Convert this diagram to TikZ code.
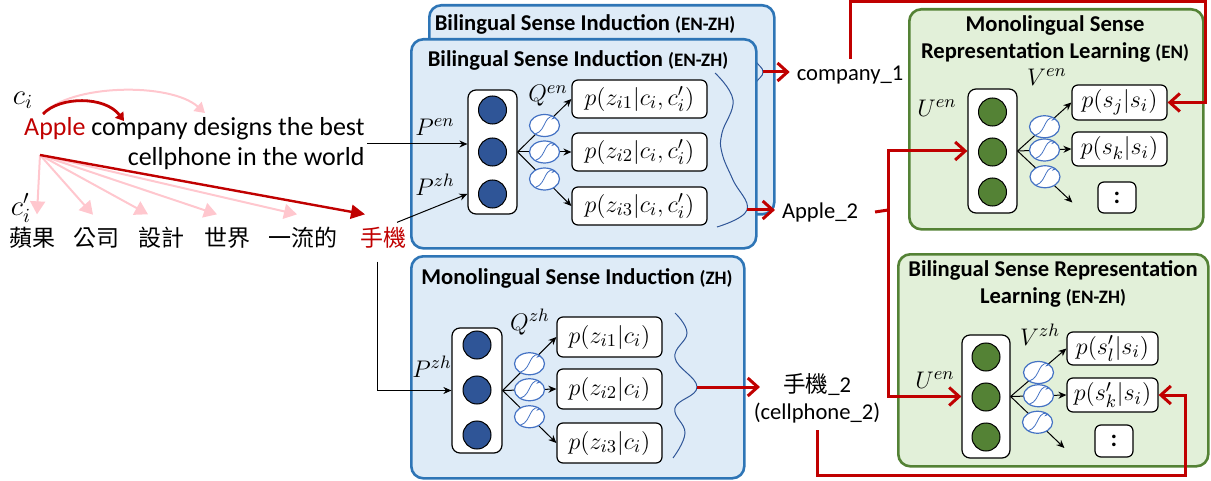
\documentclass[tikz,border=0pt]{standalone}
\usepackage{fontspec}
\setmainfont{Carlito}
\newfontfamily\cjk{Noto Sans CJK TC}
\usetikzlibrary{shapes.geometric, arrows.meta, calc}
\definecolor{boxblue}{RGB}{46,117,182}
\definecolor{fillblue}{RGB}{222,235,247}
\definecolor{boxgreen}{RGB}{84,130,53}
\definecolor{fillgreen}{RGB}{226,240,217}
\definecolor{unitblue}{RGB}{47,85,151}
\definecolor{unitgreen}{RGB}{84,130,53}
\definecolor{sigblue}{RGB}{68,114,196}
\definecolor{linkred}{RGB}{192,0,0}
\definecolor{linkpink}{RGB}{255,199,206}
\newcommand{\mfont}{\fontsize{12.5}{14}\selectfont}
\newcommand{\tagfont}{\fontsize{9.5}{11}\selectfont}

\tikzset{
  bluebox/.style={draw=boxblue, fill=fillblue, line width=1.3pt, rounded corners=6pt, anchor=north west, inner sep=0pt},
  greenbox/.style={bluebox, draw=boxgreen, fill=fillgreen},
  boxtitle/.style={font=\fontsize{11.3}{13.5}\selectfont\bfseries, align=center},
  layer/.style={draw, fill=white, rounded corners=4pt, line width=0.6pt, minimum width=24.5pt, minimum height=62pt},
  unitB/.style={circle, draw, fill=unitblue, line width=0.5pt, minimum size=14pt, inner sep=0pt},
  unitG/.style={unitB, fill=unitgreen},
  prob/.style={draw, fill=white, rounded corners=3pt, line width=0.6pt, inner sep=1pt, font=\mfont},
  dots/.style={prob, font=\fontsize{12}{14}\selectfont\bfseries, minimum width=19pt, minimum height=15.5pt},
  sig/.style={ellipse, draw=sigblue, fill=white, line width=0.6pt, minimum width=15pt, minimum height=11pt, inner sep=0pt,
    path picture={\draw[sigblue, line width=0.4pt]
      ([shift={(-7.5pt,-4.5pt)}]path picture bounding box.center)
      .. controls ([shift={(1.5pt,-5pt)}]path picture bounding box.center) and ([shift={(-1.5pt,5pt)}]path picture bounding box.center)
      .. ([shift={(7.5pt,4.5pt)}]path picture bounding box.center);}},
  flow/.style={-{Stealth[length=4pt,width=3.5pt]}, line width=0.5pt},
  redflow/.style={linkred, line width=1.5pt, -{Straight Barb[length=5pt,width=9pt]}},
  redline/.style={linkred, line width=1.5pt},
  pinkflow/.style={linkpink, line width=1pt, -{Triangle[length=6.5pt,width=7.5pt]}},
  darkflow/.style={linkred, line width=1.2pt, -{Triangle[length=7pt,width=7pt]}},
  pinkarc/.style={linkpink, line width=1pt, -{Triangle[length=5pt,width=6pt]}},
  darkarc/.style={linkred, line width=1.4pt, -{Triangle[length=4pt,width=5pt]}},
  wave/.style={unitblue, line width=0.5pt},
  lbl/.style={font=\mfont},
  ctx/.style={font=\fontsize{14}{16}\selectfont},
  word/.style={font=\fontsize{13}{15}\selectfont},
  zh/.style={font=\cjk\fontsize{11.5}{13}\selectfont},
  outlbl/.style={font=\fontsize{11.3}{13.5}\selectfont},
}

\begin{document}
\begin{tikzpicture}[x=0.5pt, y=-0.5pt]
  \useasboundingbox (0,0) rectangle (1211,481);

  % Sentence pair
  \node[ctx] (ci) at (23,100) {$c_i$};
  \node[word, align=right, anchor=east, inner sep=1pt] (sent) at (367,144)
    {\textcolor{linkred}{Apple} company designs the best\\cellphone in the world};
  \node[ctx] (cpi) at (21,208) {$c'_i$};
  \foreach \n/\x/\t in {w1/33/蘋果, w2/96/公司, w3/161/設計, w4/227/世界, w5/303/一流的}
    \node[zh] (\n) at (\x,238) {\t};
  \node[zh, text=linkred] (shouji) at (383,238) {手機};

  % Context arcs
  \coordinate (arcA) at (43,114);
  \coordinate (arcB) at (124,121);
  \coordinate (arcC) at (205,113);
  \draw[pinkarc] (arcA) .. controls (70,84) and (170,82) .. (arcC);
  \draw[darkarc] (arcA) .. controls (60,96) and (105,96) .. (arcB);

  % Alignment fan
  \coordinate (fan) at (40,155);
  \foreach \w/\dx in {w1/4, w2/-3, w3/-13, w4/-10, w5/-6}
    \draw[pinkflow] (fan) -- ($(\w.north)+(\dx,-6)$);
  \draw[darkflow] (fan) -- ($(shouji.north)+(-18,-6)$);

  % Bilingual sense induction (back copy)
  \node[bluebox, minimum width=172.5pt, minimum height=104.5pt] (bsiB) at (428,4) {};
  \node[boxtitle] at (585,24) {Bilingual Sense Induction {\tagfont(EN-ZH)}};
  \coordinate (tipB) at (763,72);
  \draw[wave] (755,60) .. controls (758,66) and (763,67) .. (tipB) .. controls (763,77) and (758,78) .. (755,84);

  % Bilingual sense induction (front copy)
  \node[bluebox, minimum width=172.5pt, minimum height=104.5pt] (bsiF) at (410,38) {};
  \node[boxtitle] at (578,60) {Bilingual Sense Induction {\tagfont(EN-ZH)}};
  \node[layer] (colF) at (492.5,152) {};
  \foreach \i/\y in {1/110, 2/152, 3/194}
    \node[unitB] (cF\i) at (492.5,\y) {};
  \node[lbl] at (548,96) {$Q^{en}$};
  \node[lbl] at (435,127) {$P^{en}$};
  \node[lbl] at (435,185) {$P^{zh}$};
  \node[prob, minimum width=67.5pt, minimum height=19pt] (pF1) at (639.5,99) {$p(z_{i1}|c_i,c'_i)$};
  \node[prob, minimum width=67.5pt, minimum height=19pt] (pF2) at (639.5,152) {$p(z_{i2}|c_i,c'_i)$};
  \node[prob, minimum width=67.5pt, minimum height=19pt] (pF3) at (639.5,206) {$p(z_{i3}|c_i,c'_i)$};
  \foreach \i in {1,2,3}
    \draw[flow] (colF.east) -- node[sig, pos=0.5] {} (pF\i.west);
  \draw[wave] plot[smooth, tension=0.7] coordinates {(715,73) (733,100) (722,133) (722,153) (733,180) (747,210) (717,227)};
  \coordinate (tipF) at (747,210);

  % Monolingual sense induction
  \node[bluebox, minimum width=166.5pt, minimum height=111pt] (msi) at (410,255) {};
  \node[boxtitle] at (577,278) {Monolingual Sense Induction {\tagfont(ZH)}};
  \node[layer, minimum width=25pt, minimum height=62.5pt] (colM) at (477,390.5) {};
  \foreach \i/\y in {1/345, 2/390, 3/435}
    \node[unitB] (cM\i) at (477,\y) {};
  \node[lbl] at (530,322) {$Q^{zh}$};
  \node[lbl] at (432,367) {$P^{zh}$};
  \node[prob, minimum width=52.5pt, minimum height=20pt] (pM1) at (609.5,337) {$p(z_{i1}|c_i)$};
  \node[prob, minimum width=52.5pt, minimum height=20pt] (pM2) at (609.5,389) {$p(z_{i2}|c_i)$};
  \node[prob, minimum width=52.5pt, minimum height=20pt] (pM3) at (609.5,443) {$p(z_{i3}|c_i)$};
  \foreach \i in {1,2,3}
    \draw[flow] (colM.east) -- node[sig, pos=0.5] {} (pM\i.west);
  \draw[wave] plot[smooth, tension=0.7] coordinates {(675,313) (687,333) (675,358) (697,387) (675,408) (685,433) (673,458)};
  \coordinate (tipM) at (697,387);

  % Inputs to the induction modules
  \draw[flow] (sent.east) -- (sent.east -| colF.west);
  \draw[flow] ($(shouji.north east)+(-16,2)$) -- (colF.west |- cF3);
  \draw[flow] ($(shouji.south)+(-6,6)$) |- (colM.west);

  % Monolingual sense representation learning
  \node[greenbox, minimum width=147pt, minimum height=110pt] (mrl) at (908,8) {};
  \node[boxtitle] at (1055,39) {Monolingual Sense\\Representation Learning {\tagfont(EN)}};
  \node[layer] (colG1) at (992.5,151) {};
  \foreach \i/\y in {1/112, 2/152, 3/192}
    \node[unitG] (cG\i) at (992.5,\y) {};
  \node[lbl] at (937,108) {$U^{en}$};
  \node[lbl] at (1047,77) {$V^{en}$};
  \node[prob, minimum width=47.5pt, minimum height=17.5pt] (pj) at (1119.5,102.5) {$p(s_j|s_i)$};
  \node[prob, minimum width=47.5pt, minimum height=17pt] (pk) at (1119.5,149) {$p(s_k|s_i)$};
  \node[dots] (dG1) at (1117,197.5) {:};
  \draw[flow] (colG1.east) -- node[sig, pos=0.5] {} (pj.west);
  \draw[flow] (colG1.east) -- node[sig, pos=0.5] {} (pk.west);
  \draw[flow] (colG1.east) -- node[sig, pos=0.5] {} ($(dG1.west)+(-25,5)$);

  % Bilingual sense representation learning
  \node[greenbox, minimum width=155pt, minimum height=106pt] (bsrl) at (897,253) {};
  \node[boxtitle] at (1053,284) {Bilingual Sense Representation\\Learning {\tagfont(EN-ZH)}};
  \node[layer, minimum width=24pt, minimum height=61.5pt] (colG2) at (986,396.5) {};
  \foreach \i/\y in {1/357, 2/397, 3/437}
    \node[unitG] (cH\i) at (986,\y) {};
  \node[lbl] at (935,380) {$U^{en}$};
  \node[lbl] at (1040,335) {$V^{zh}$};
  \node[prob, minimum width=45.5pt, minimum height=16.5pt] (pl) at (1112.5,348.5) {$p(s'_l|s_i)$};
  \node[prob, minimum width=45.5pt, minimum height=17pt] (pk2) at (1112.5,395) {$p(s'_k|s_i)$};
  \node[dots, minimum height=16pt] (dG2) at (1114,441) {:};
  \draw[flow] (colG2.east) -- node[sig, pos=0.5] {} (pl.west);
  \draw[flow] (colG2.east) -- node[sig, pos=0.5] {} (pk2.west);
  \draw[flow] (colG2.east) -- node[sig, pos=0.5] {} ($(dG2.west)+(-30,7)$);

  % Induced senses
  \node[outlbl] (comp1) at (850,75) {company\_1};
  \node[outlbl] (apple2) at (820,212) {Apple\_2};
  \node[outlbl] (shouji2) at (817,385) {{\cjk 手機}\_2};
  \node[outlbl] (cell2) at (817,413) {(cellphone\_2)};

  % Sense links
  \draw[redflow] (tipB) -- (tipB -| comp1.west);
  \draw[redflow] (tipF) -- (tipF -| apple2.west);
  \draw[redflow] (tipM) -- ([xshift=-8pt]tipM -| shouji2.west);
  \coordinate (topcorner) at (1205,2);
  \draw[redflow] (comp1.north) |- (topcorner) |- (pj.east);
  \coordinate (split) at (888,210);
  \draw[redline] ([xshift=5pt]apple2.east) -- (split);
  \draw[redflow] (split) |- (colG1.west);
  \draw[redflow] (split) |- (colG2.west);
  \coordinate (botcorner) at (1185,475);
  \draw[redflow] (cell2.south) |- (botcorner) |- (pk2.east);
\end{tikzpicture}
\end{document}
